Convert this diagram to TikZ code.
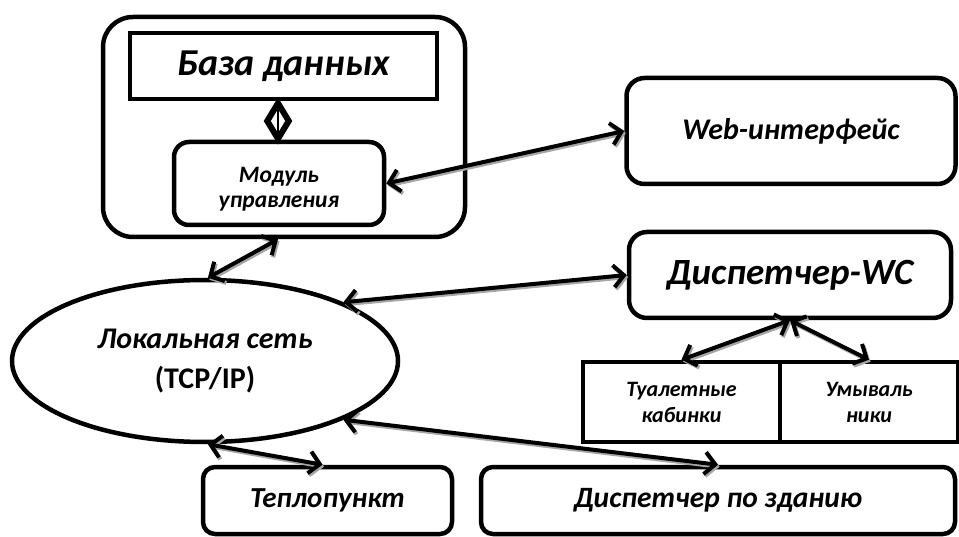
\documentclass[tikz,border=0pt]{standalone}
\usepackage{fontspec}
\setmainfont{Carlito}
\usetikzlibrary{arrows.meta,shapes.geometric,calc}
\begin{document}
\begin{tikzpicture}[x=1pt,y=-1pt,
  box/.style={draw=black,line width=4.5pt,rounded corners=#1,inner sep=0pt,align=center,font=\bfseries\itshape},
  box/.default=18pt,
  sq/.style={draw=black,line width=4.5pt,inner sep=0pt,align=center,font=\bfseries\itshape},
  conn/.style={line width=4pt,{Straight Barb[length=10.5pt,width=22pt]}-{Straight Barb[length=10.5pt,width=22pt]},
    preaction={draw=black!35,line width=4pt,transform canvas={shift={(1.5pt,-2pt)}}}}
  ]
\useasboundingbox (0,0) rectangle (959,537);
% boxes
\node[box=30pt,minimum width=362pt,minimum height=220pt] (outer) at (284,127) {};
\node[sq,minimum width=307pt,minimum height=66pt,font=\bfseries\itshape\fontsize{38}{42}\selectfont] (db) at (283.5,66) {База данных};
\node[box=15pt,minimum width=210pt,minimum height=83pt,
  label={[name=modtext,align=center,font=\bfseries\itshape\fontsize{23.5}{25}\selectfont,yshift=-6pt]center:Модуль\\управления}] (mod) at (279,183.5) {};
\node[box,minimum width=329pt,minimum height=106pt,font=\bfseries\itshape\fontsize{30}{34}\selectfont] (web) at (791,131) {Web-интерфейс};
\node[box,minimum width=322pt,minimum height=86pt,font=\bfseries\itshape\fontsize{37}{40}\selectfont] (wc) at (790,275) {Диспетчер-WC};
\node[sq,minimum width=197pt,minimum height=80pt,font=\bfseries\itshape\fontsize{22}{26}\selectfont] (toilet) at (681.5,402) {Туалетные\\кабинки};
\node[sq,minimum width=178pt,minimum height=80pt,font=\bfseries\itshape\fontsize{22}{26}\selectfont] (sink) at (869,402) {Умываль\\ники};
\node[draw=black,line width=4.5pt,ellipse,minimum width=386pt,minimum height=162pt,inner sep=0pt,align=center,font=\fontsize{30}{40}\selectfont] (lan) at (205,361) {\textbf{\textit{Локальная сеть}}\\\textbf{(TCP/IP)}};
\node[box=12pt,minimum width=249pt,minimum height=67pt,font=\bfseries\itshape\fontsize{29}{32}\selectfont] (heat) at (327.5,500.5) {Теплопункт};
\node[box=12pt,minimum width=474pt,minimum height=67pt,font=\bfseries\itshape\fontsize{29.5}{32}\selectfont] (disp) at (718,500.5) {Диспетчер по зданию};
% composition diamond
\node[diamond,draw=black,line width=6pt,fill=white,minimum width=24pt,minimum height=38pt,inner sep=0pt] (dia) at (278,121) {};
\draw[line width=2.5pt] (dia.north) -- (dia.south);
% connectors
\draw[conn] (mod.east) -- (web.west);
\draw[conn] ([xshift=-6pt]outer.south) -- (lan.88);
\draw[conn] (lan.23) -- (wc.west);
\draw[conn] (wc.south) -- (toilet.north);
\draw[conn] (wc.south) -- (sink.north);
\draw[conn] (lan.-23) -- (disp.north);
\draw[conn] (lan.-88) -- ([xshift=-5pt]heat.north);
\end{tikzpicture}
\end{document}
